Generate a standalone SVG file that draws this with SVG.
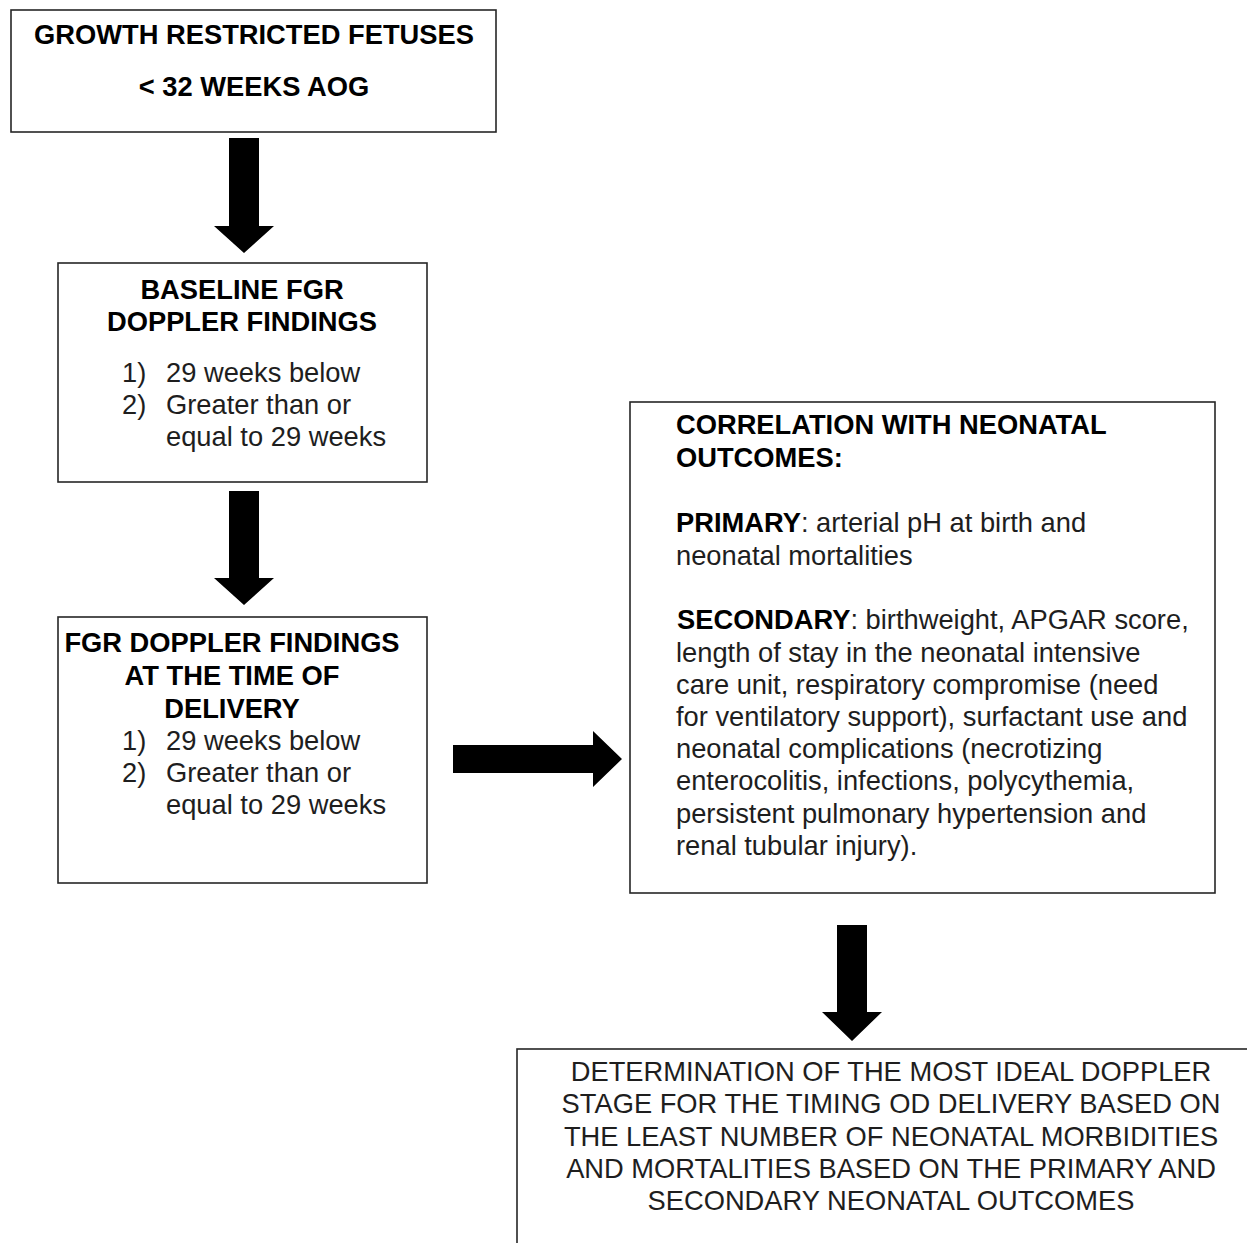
<svg xmlns="http://www.w3.org/2000/svg" width="1247" height="1243" viewBox="0 0 1247 1243">
<style>
.box{fill:#fff;stroke:#262626;stroke-width:1.6}
.t{font-family:"Liberation Sans",Arial,sans-serif;font-size:27.3px;fill:#1e1e1e}
.b{font-weight:bold;fill:#000}
.c{text-anchor:middle}
.arrow{fill:#000}
</style>
<rect width="1247" height="1243" fill="#fff"/>
<g id="connectors">
<polygon class="arrow" points="229,138 259,138 259,226 274,226 244,253 214,226 229,226"/>
<polygon class="arrow" points="229,491 259,491 259,578 274,578 244,605 214,578 229,578"/>
<polygon class="arrow" points="453,745 593,745 593,731 622,759 593,787 593,773 453,773"/>
<polygon class="arrow" points="837,925 867,925 867,1012 882,1012 852,1041 822,1012 837,1012"/>
</g>
<g id="node-growth">
<rect class="box" x="11" y="10" width="485" height="122"/>
<text class="t b c" x="254" y="44">GROWTH RESTRICTED FETUSES</text>
<text class="t b c" x="254" y="96">&lt; 32 WEEKS AOG</text>
</g>
<g id="node-baseline">
<rect class="box" x="58" y="263" width="369" height="219"/>
<text class="t b c" x="242" y="299">BASELINE FGR</text>
<text class="t b c" x="242" y="331">DOPPLER FINDINGS</text>
<text class="t" x="122" y="382">1)</text>
<text class="t" x="166" y="382">29 weeks below</text>
<text class="t" x="122" y="414">2)</text>
<text class="t" x="166" y="414">Greater than or</text>
<text class="t" x="166" y="446">equal to 29 weeks</text>
</g>
<g id="node-delivery">
<rect class="box" x="58" y="617" width="369" height="266"/>
<text class="t b c" x="232" y="652">FGR DOPPLER FINDINGS</text>
<text class="t b c" x="232" y="685">AT THE TIME OF</text>
<text class="t b c" x="232" y="718">DELIVERY</text>
<text class="t" x="122" y="750">1)</text>
<text class="t" x="166" y="750">29 weeks below</text>
<text class="t" x="122" y="782">2)</text>
<text class="t" x="166" y="782">Greater than or</text>
<text class="t" x="166" y="814">equal to 29 weeks</text>
</g>
<g id="node-correlation">
<rect class="box" x="630" y="402" width="585" height="491"/>
<text class="t b" x="676" y="434">CORRELATION WITH NEONATAL</text>
<text class="t b" x="676" y="467">OUTCOMES:</text>
<text class="t" x="676" y="532"><tspan class="b">PRIMARY</tspan>: arterial pH at birth and</text>
<text class="t" x="676" y="565">neonatal mortalities</text>
<text class="t" x="677" y="629"><tspan class="b">SECONDARY</tspan>: birthweight, APGAR score,</text>
<text class="t" x="676" y="662">length of stay in the neonatal intensive</text>
<text class="t" x="676" y="694">care unit, respiratory compromise (need</text>
<text class="t" x="676" y="726">for ventilatory support), surfactant use and</text>
<text class="t" x="676" y="758">neonatal complications (necrotizing</text>
<text class="t" x="676" y="790">enterocolitis, infections, polycythemia,</text>
<text class="t" x="676" y="823">persistent pulmonary hypertension and</text>
<text class="t" x="676" y="855">renal tubular injury).</text>
</g>
<g id="node-determination">
<rect class="box" x="517" y="1049" width="760" height="260"/>
<text class="t c" x="891" y="1081">DETERMINATION OF THE MOST IDEAL DOPPLER</text>
<text class="t c" x="891" y="1113">STAGE FOR THE TIMING OD DELIVERY BASED ON</text>
<text class="t c" x="891" y="1146">THE LEAST NUMBER OF NEONATAL MORBIDITIES</text>
<text class="t c" x="891" y="1178">AND MORTALITIES BASED ON THE PRIMARY AND</text>
<text class="t c" x="891" y="1210">SECONDARY NEONATAL OUTCOMES</text>
</g>
</svg>
